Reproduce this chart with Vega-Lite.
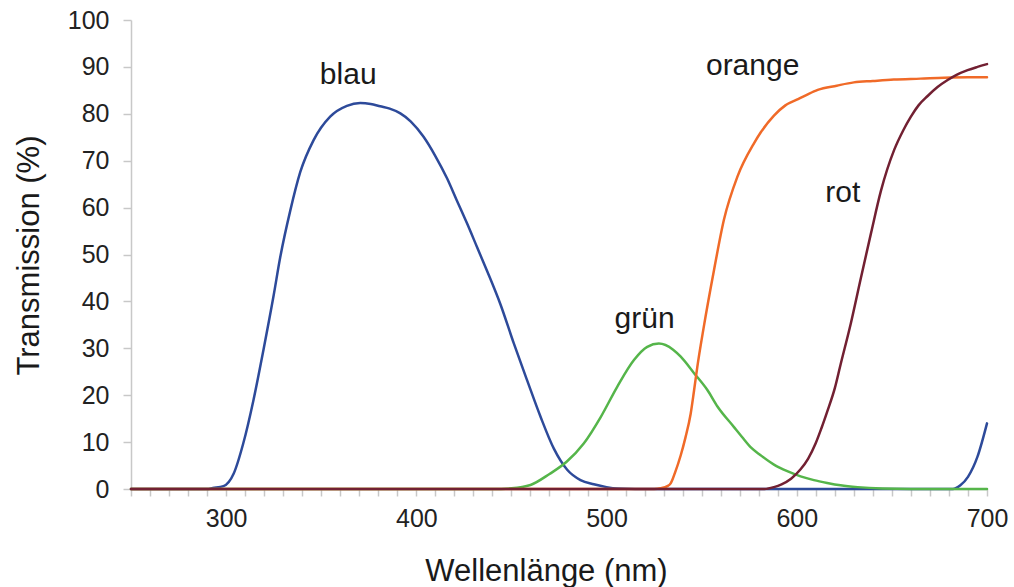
{
  "$schema": "https://vega.github.io/schema/vega-lite/v6.json",
  "width": 856,
  "height": 469,
  "autosize": {"type": "none"},
  "padding": {"left": 131, "top": 20, "right": 27, "bottom": 98},
  "background": "white",
  "config": {"view": {"stroke": null}, "font": "Liberation Sans"},
  "datasets": {
    "curves": [
      {"filter": "blau", "nm": 250, "t": 0}, {"filter": "blau", "nm": 290, "t": 0}, {"filter": "blau", "nm": 293, "t": 0.2}, {"filter": "blau", "nm": 298.6, "t": 0.6}, {"filter": "blau", "nm": 304, "t": 3.3}, {"filter": "blau", "nm": 309, "t": 9.7}, {"filter": "blau", "nm": 314.4, "t": 19}, {"filter": "blau", "nm": 319.6, "t": 29.6}, {"filter": "blau", "nm": 325, "t": 41.3}, {"filter": "blau", "nm": 328.4, "t": 49.3}, {"filter": "blau", "nm": 333.7, "t": 59.3}, {"filter": "blau", "nm": 339, "t": 67.6}, {"filter": "blau", "nm": 346, "t": 74.4}, {"filter": "blau", "nm": 354.7, "t": 79.4}, {"filter": "blau", "nm": 363.5, "t": 81.7}, {"filter": "blau", "nm": 370.5, "t": 82.3}, {"filter": "blau", "nm": 376, "t": 82.1}, {"filter": "blau", "nm": 381, "t": 81.6}, {"filter": "blau", "nm": 386, "t": 81.1}, {"filter": "blau", "nm": 391.6, "t": 80.1}, {"filter": "blau", "nm": 397, "t": 78.4}, {"filter": "blau", "nm": 403.8, "t": 75.1}, {"filter": "blau", "nm": 410, "t": 71}, {"filter": "blau", "nm": 416.2, "t": 66.2}, {"filter": "blau", "nm": 421, "t": 61.8}, {"filter": "blau", "nm": 426.7, "t": 56.6}, {"filter": "blau", "nm": 432, "t": 51.5}, {"filter": "blau", "nm": 437.2, "t": 46.5}, {"filter": "blau", "nm": 444.2, "t": 39.4}, {"filter": "blau", "nm": 451.2, "t": 31.1}, {"filter": "blau", "nm": 458.3, "t": 23.1}, {"filter": "blau", "nm": 465.3, "t": 15.4}, {"filter": "blau", "nm": 472.3, "t": 8.6}, {"filter": "blau", "nm": 479.3, "t": 4.1}, {"filter": "blau", "nm": 486.3, "t": 1.9}, {"filter": "blau", "nm": 493.3, "t": 1.0}, {"filter": "blau", "nm": 500, "t": 0.4}, {"filter": "blau", "nm": 506, "t": 0.1}, {"filter": "blau", "nm": 515, "t": 0}, {"filter": "blau", "nm": 682, "t": 0}, {"filter": "blau", "nm": 686, "t": 0.8}, {"filter": "blau", "nm": 690, "t": 2.6}, {"filter": "blau", "nm": 695, "t": 6.9}, {"filter": "blau", "nm": 700, "t": 14},
      {"filter": "grün", "nm": 250, "t": 0}, {"filter": "grün", "nm": 440, "t": 0}, {"filter": "grün", "nm": 450, "t": 0.15}, {"filter": "grün", "nm": 460, "t": 0.85}, {"filter": "grün", "nm": 470, "t": 3.2}, {"filter": "grün", "nm": 479, "t": 5.8}, {"filter": "grün", "nm": 488, "t": 9.7}, {"filter": "grün", "nm": 497, "t": 15.4}, {"filter": "grün", "nm": 505.6, "t": 21.8}, {"filter": "grün", "nm": 514.4, "t": 27.5}, {"filter": "grün", "nm": 521.4, "t": 30.3}, {"filter": "grün", "nm": 527.5, "t": 31}, {"filter": "grün", "nm": 535, "t": 29.7}, {"filter": "grün", "nm": 539, "t": 28.2}, {"filter": "grün", "nm": 546, "t": 24.7}, {"filter": "grün", "nm": 553, "t": 21.1}, {"filter": "grün", "nm": 558.3, "t": 17.6}, {"filter": "grün", "nm": 567, "t": 13.2}, {"filter": "grün", "nm": 571, "t": 11.2}, {"filter": "grün", "nm": 576, "t": 8.8}, {"filter": "grün", "nm": 581, "t": 7.2}, {"filter": "grün", "nm": 588, "t": 5.2}, {"filter": "grün", "nm": 595, "t": 3.8}, {"filter": "grün", "nm": 602, "t": 2.7}, {"filter": "grün", "nm": 609, "t": 1.9}, {"filter": "grün", "nm": 616, "t": 1.3}, {"filter": "grün", "nm": 623, "t": 0.8}, {"filter": "grün", "nm": 632, "t": 0.4}, {"filter": "grün", "nm": 645, "t": 0.1}, {"filter": "grün", "nm": 660, "t": 0}, {"filter": "grün", "nm": 700, "t": 0},
      {"filter": "orange", "nm": 250, "t": 0}, {"filter": "orange", "nm": 525, "t": 0}, {"filter": "orange", "nm": 528.4, "t": 0.15}, {"filter": "orange", "nm": 532, "t": 0.6}, {"filter": "orange", "nm": 533.7, "t": 1.2}, {"filter": "orange", "nm": 536, "t": 3.5}, {"filter": "orange", "nm": 539, "t": 7.2}, {"filter": "orange", "nm": 541.5, "t": 11}, {"filter": "orange", "nm": 544.2, "t": 16}, {"filter": "orange", "nm": 546, "t": 21}, {"filter": "orange", "nm": 547.7, "t": 26}, {"filter": "orange", "nm": 551, "t": 34.3}, {"filter": "orange", "nm": 556.5, "t": 46.7}, {"filter": "orange", "nm": 561.7, "t": 57.4}, {"filter": "orange", "nm": 568.8, "t": 66.6}, {"filter": "orange", "nm": 577.5, "t": 73.7}, {"filter": "orange", "nm": 581, "t": 76}, {"filter": "orange", "nm": 588, "t": 79.6}, {"filter": "orange", "nm": 594, "t": 81.8}, {"filter": "orange", "nm": 600, "t": 83}, {"filter": "orange", "nm": 605, "t": 84}, {"filter": "orange", "nm": 611, "t": 85.1}, {"filter": "orange", "nm": 621, "t": 86}, {"filter": "orange", "nm": 630, "t": 86.7}, {"filter": "orange", "nm": 640, "t": 87}, {"filter": "orange", "nm": 651, "t": 87.3}, {"filter": "orange", "nm": 665, "t": 87.5}, {"filter": "orange", "nm": 677.5, "t": 87.7}, {"filter": "orange", "nm": 690, "t": 87.8}, {"filter": "orange", "nm": 700, "t": 87.8},
      {"filter": "rot", "nm": 250, "t": 0}, {"filter": "rot", "nm": 583, "t": 0}, {"filter": "rot", "nm": 588, "t": 0.4}, {"filter": "rot", "nm": 592, "t": 1}, {"filter": "rot", "nm": 597, "t": 2.2}, {"filter": "rot", "nm": 602, "t": 4.2}, {"filter": "rot", "nm": 606, "t": 6.5}, {"filter": "rot", "nm": 610, "t": 9.8}, {"filter": "rot", "nm": 613, "t": 13}, {"filter": "rot", "nm": 616, "t": 16.5}, {"filter": "rot", "nm": 620, "t": 21.5}, {"filter": "rot", "nm": 623, "t": 26.5}, {"filter": "rot", "nm": 628.4, "t": 35.3}, {"filter": "rot", "nm": 633.7, "t": 45}, {"filter": "rot", "nm": 639, "t": 54.5}, {"filter": "rot", "nm": 644.2, "t": 63.5}, {"filter": "rot", "nm": 651.2, "t": 72.3}, {"filter": "rot", "nm": 656, "t": 76.5}, {"filter": "rot", "nm": 660, "t": 79.4}, {"filter": "rot", "nm": 664, "t": 81.8}, {"filter": "rot", "nm": 668.8, "t": 83.8}, {"filter": "rot", "nm": 674, "t": 85.7}, {"filter": "rot", "nm": 679.3, "t": 87.2}, {"filter": "rot", "nm": 684, "t": 88.3}, {"filter": "rot", "nm": 689.8, "t": 89.3}, {"filter": "rot", "nm": 695, "t": 90}, {"filter": "rot", "nm": 700, "t": 90.6}
    ],
    "labels": [
      {"label": "blau", "nm": 364.2, "t": 86.4},
      {"label": "grün", "nm": 520, "t": 34.3},
      {"label": "orange", "nm": 576.8, "t": 88.3},
      {"label": "rot", "nm": 624.2, "t": 61.3}
    ]
  },
  "encoding": {
    "x": {
      "field": "nm", "type": "quantitative",
      "scale": {"domain": [250, 700], "nice": false, "zero": false},
      "axis": {
        "values": [250, 260, 270, 280, 290, 300, 310, 320, 330, 340, 350, 360, 370, 380, 390, 400, 410, 420, 430, 440, 450, 460, 470, 480, 490, 500, 510, 520, 530, 540, 550, 560, 570, 580, 590, 600, 610, 620, 630, 640, 650, 660, 670, 680, 690, 700],
        "labelExpr": "(datum.value % 100 == 0 && datum.value > 250) ? format(datum.value, 'd') : ''",
        "labelFlush": false, "labelOverlap": false, "labelBound": false, "grid": false,
        "domainColor": "#c8c8c8", "domainWidth": 1.5, "tickColor": "#c8c8c8", "tickWidth": 1.5, "tickSize": 7,
        "labelPadding": 10, "labelFontSize": 25, "labelColor": "#222222",
        "title": "Wellenlänge (nm)", "titleFontSize": 31, "titleFontWeight": "normal", "titleColor": "#1a1a1a",
        "titleX": 415, "titleY": 91, "titleBaseline": "alphabetic", "titleAlign": "center"
      }
    },
    "y": {
      "field": "t", "type": "quantitative",
      "scale": {"domain": [0, 100], "nice": false},
      "axis": {
        "values": [0, 10, 20, 30, 40, 50, 60, 70, 80, 90, 100],
        "grid": false,
        "domainColor": "#c8c8c8", "domainWidth": 1.5, "tickColor": "#c8c8c8", "tickWidth": 1.5, "tickSize": 8,
        "labelPadding": 14, "labelFontSize": 25, "labelColor": "#222222",
        "title": "Transmission (%)", "titleFontSize": 31, "titleFontWeight": "normal", "titleColor": "#1a1a1a",
        "titleX": -93, "titleY": 235, "titleAngle": -90, "titleBaseline": "alphabetic", "titleAlign": "center"
      }
    }
  },
  "layer": [
    {
      "data": {"name": "curves"},
      "mark": {"type": "line", "strokeWidth": 2.5, "strokeJoin": "round", "strokeCap": "round", "interpolate": "monotone"},
      "encoding": {
        "color": {
          "field": "filter", "type": "nominal",
          "scale": {"domain": ["blau", "grün", "orange", "rot"], "range": ["#2d4a9a", "#55b54a", "#f06a28", "#722032"]},
          "legend": null
        }
      }
    },
    {
      "data": {"name": "labels"},
      "mark": {"type": "text", "fontSize": 30, "align": "center", "baseline": "alphabetic", "color": "#1a1a1a"},
      "encoding": {
        "text": {"field": "label"}
      }
    }
  ]
}
